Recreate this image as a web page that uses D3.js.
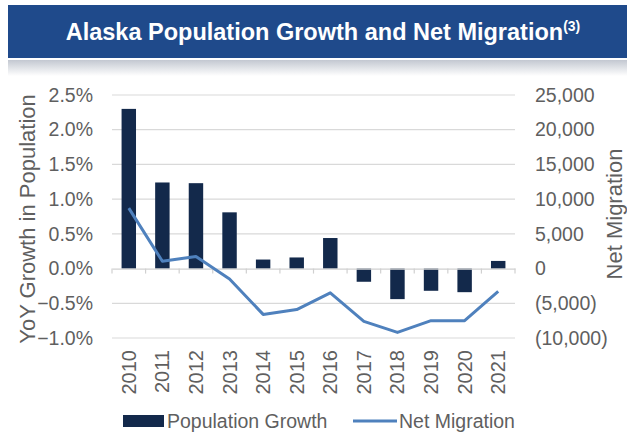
<!DOCTYPE html>
<html>
<head>
<meta charset="utf-8">
<script src="https://cdn.jsdelivr.net/npm/d3@7"></script>
<style>
  html, body { margin: 0; padding: 0; background: #ffffff; }
  svg { display: block; font-family: "Liberation Sans", Arial, sans-serif; }
</style>
</head>
<body>
<svg id="chart" width="627" height="435"></svg>
<script>
// Alaska year-over-year population growth (%) and net migration (people)
const years = ["2010","2011","2012","2013","2014","2015","2016","2017","2018","2019","2020","2021"];
const popGrowth = [2.30, 1.24, 1.23, 0.81, 0.13, 0.16, 0.44, -0.19, -0.44, -0.32, -0.34, 0.11];
const netMigration = [8700, 1050, 1750, -1500, -6600, -5900, -3500, -7600, -9200, -7500, -7500, -3300];
const leftTicks = [-1.0, -0.5, 0.0, 0.5, 1.0, 1.5, 2.0, 2.5];
const rightTicks = [-10000, -5000, 0, 5000, 10000, 15000, 20000, 25000];

const svg = d3.select("#chart");
const W = 627, H = 435;
const plot = { left: 112, right: 515, top: 95, bottom: 338 };
const textGrey = "#5f5f5f";
const barColor = "#13294b";
const lineColor = "#4f81bd";
const tickFont = 19.5;

// Header banner
const defs = svg.append("defs");
const shade = defs.append("linearGradient").attr("id", "shade").attr("x1", 0).attr("y1", 0).attr("x2", 0).attr("y2", 1);
shade.append("stop").attr("offset", "0%").attr("stop-color", "#c3c8d1");
shade.append("stop").attr("offset", "100%").attr("stop-color", "#ffffff");

svg.append("rect").attr("x", 8).attr("y", 60).attr("width", W - 8).attr("height", 16).attr("fill", "url(#shade)");
svg.append("rect").attr("x", 8).attr("y", 5).attr("width", W - 8).attr("height", 53).attr("fill", "#1f4a8b");

const title = svg.append("text")
  .attr("x", 323).attr("y", 40)
  .attr("text-anchor", "middle")
  .attr("fill", "#ffffff")
  .attr("font-weight", "bold")
  .attr("font-size", 23.5);
title.append("tspan").text("Alaska Population Growth and Net Migration");
title.append("tspan").attr("dy", -9).attr("font-size", 14).text("(3)");

// Scales
const x = d3.scaleBand().domain(years).range([plot.left, plot.right]).padding(0);
const yL = d3.scaleLinear().domain([-1.0, 2.5]).range([plot.bottom, plot.top]);
const yR = d3.scaleLinear().domain([-10000, 25000]).range([plot.bottom, plot.top]);

// Gridlines
svg.append("g")
  .selectAll("line")
  .data(leftTicks.filter(d => d !== 0))
  .join("line")
  .attr("x1", plot.left).attr("x2", plot.right)
  .attr("y1", d => yL(d)).attr("y2", d => yL(d))
  .attr("stroke", "#d9d9d9").attr("stroke-width", 1.2);

// Bars
const barW = x.bandwidth() * 0.43;
svg.append("g")
  .selectAll("rect")
  .data(years.map((y, i) => ({ year: y, v: popGrowth[i] })))
  .join("rect")
  .attr("x", d => x(d.year) + (x.bandwidth() - barW) / 2)
  .attr("width", barW)
  .attr("y", d => Math.min(yL(d.v), yL(0)))
  .attr("height", d => Math.abs(yL(d.v) - yL(0)))
  .attr("fill", barColor);

// Category axis on the zero line
const xAxis = d3.axisBottom(x).tickSize(0).tickFormat("");
const zeroAxis = svg.append("g").attr("transform", `translate(0,${yL(0)})`).call(xAxis);
zeroAxis.select(".domain").attr("stroke", "#d0d0d0").attr("stroke-width", 1.2);
zeroAxis.selectAll(".tick").remove();
zeroAxis.selectAll("line.div")
  .data(years.concat(["end"]))
  .join("line")
  .attr("class", "div")
  .attr("x1", (d, i) => plot.left + i * x.step())
  .attr("x2", (d, i) => plot.left + i * x.step())
  .attr("y1", 0).attr("y2", 5)
  .attr("stroke", "#d0d0d0").attr("stroke-width", 1.2);

// Net migration line
const line = d3.line()
  .x((d, i) => x(years[i]) + x.bandwidth() / 2)
  .y(d => yR(d));
svg.append("path")
  .datum(netMigration)
  .attr("d", line)
  .attr("fill", "none")
  .attr("stroke", lineColor)
  .attr("stroke-width", 3)
  .attr("stroke-linejoin", "round");

// Left axis labels
const leftAxis = d3.axisLeft(yL).tickValues(leftTicks).tickSize(0).tickPadding(19)
  .tickFormat(d => d3.format(".1f")(d) + "%");
const gL = svg.append("g").attr("transform", `translate(${plot.left},0)`).call(leftAxis);
gL.select(".domain").remove();
gL.selectAll("text").attr("font-size", tickFont).attr("fill", textGrey).attr("font-family", null);

// Right axis labels
const fmtR = d => d < 0 ? "(" + d3.format(",")(-d) + ")" : d3.format(",")(d);
const rightAxis = d3.axisRight(yR).tickValues(rightTicks).tickSize(0).tickPadding(20).tickFormat(fmtR);
const gR = svg.append("g").attr("transform", `translate(${plot.right},0)`).call(rightAxis);
gR.select(".domain").remove();
gR.selectAll("text").attr("font-size", tickFont).attr("fill", textGrey).attr("font-family", null);

// Year labels
svg.append("g")
  .selectAll("text")
  .data(years)
  .join("text")
  .attr("transform", d => `translate(${x(d) + x.bandwidth() / 2 + 7},350) rotate(-90)`)
  .attr("text-anchor", "end")
  .attr("font-size", 20)
  .attr("fill", textGrey)
  .text(d => d);

// Axis titles
svg.append("text")
  .attr("transform", "translate(27,219) rotate(-90)")
  .attr("text-anchor", "middle")
  .attr("dominant-baseline", "central")
  .attr("font-size", 22)
  .attr("fill", textGrey)
  .text("YoY Growth in Population");

svg.append("text")
  .attr("transform", "translate(614,214) rotate(-90)")
  .attr("text-anchor", "middle")
  .attr("dominant-baseline", "central")
  .attr("font-size", 22)
  .attr("fill", textGrey)
  .text("Net Migration");

// Legend
const lg = svg.append("g");
lg.append("rect").attr("x", 123).attr("y", 415).attr("width", 41).attr("height", 12).attr("fill", barColor);
lg.append("text").attr("x", 167).attr("y", 428).attr("font-size", 19.5).attr("fill", textGrey).text("Population Growth");
lg.append("line").attr("x1", 353).attr("x2", 397).attr("y1", 421).attr("y2", 421)
  .attr("stroke", lineColor).attr("stroke-width", 3);
lg.append("text").attr("x", 399).attr("y", 428).attr("font-size", 19.5).attr("fill", textGrey).text("Net Migration");
</script>
</body>
</html>
